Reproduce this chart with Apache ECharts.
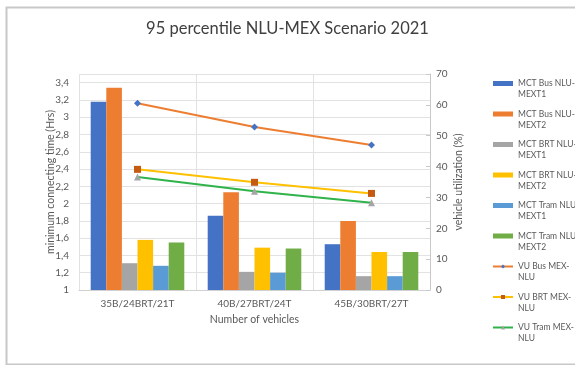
<!DOCTYPE html>
<html>
<head>
<meta charset="utf-8">
<script src="https://cdn.jsdelivr.net/npm/echarts@6/dist/echarts.min.js"></script>
<style>
  html, body { margin: 0; padding: 0; background: #fff; }
  #chart { width: 575px; height: 365px; }
</style>
</head>
<body>
<div id="chart"></div>
<script>
// Scenario categories (fleet size per mode)
const categories = ['35B/24BRT/21T', '40B/27BRT/24T', '45B/30BRT/27T'];

// Minimum connecting time (hours), left axis
const mctBusT1  = [3.18, 1.86, 1.53];
const mctBusT2  = [3.34, 2.13, 1.80];
const mctBrtT1  = [1.31, 1.21, 1.16];
const mctBrtT2  = [1.58, 1.49, 1.44];
const mctTramT1 = [1.28, 1.20, 1.16];
const mctTramT2 = [1.55, 1.48, 1.44];

// Vehicle utilization (%), right axis
const vuBus  = [60.5, 52.8, 47.0];
const vuBrt  = [39.1, 34.9, 31.3];
const vuTram = [36.6, 32.0, 28.3];

const leftTicks = { min: 1, max: 3.5, interval: 0.2 };
const rightTicks = { min: 0, max: 70, interval: 10 };

const textColor = '#595959';
const font = 'Lato, "Open Sans", sans-serif';

function barSeries(name, data, color) {
  return {
    name, type: 'bar', data, yAxisIndex: 0,
    barGap: '0%', barCategoryGap: '20%',
    itemStyle: { color }
  };
}
function lineSeries(name, data, lineColor, symbol, symbolColor, size) {
  return {
    name, type: 'line', data, yAxisIndex: 1,
    symbol, symbolSize: size,
    lineStyle: { color: lineColor, width: 2 },
    itemStyle: { color: symbolColor },
    z: 5
  };
}

const series = [
  barSeries('MCT Bus NLU-MEXT1', mctBusT1, '#4472c4'),
  barSeries('MCT Bus NLU-MEXT2', mctBusT2, '#ed7d31'),
  barSeries('MCT BRT NLU-MEXT1', mctBrtT1, '#a5a5a5'),
  barSeries('MCT BRT NLU-MEXT2', mctBrtT2, '#ffc000'),
  barSeries('MCT Tram NLU-MEXT1', mctTramT1, '#5b9bd5'),
  barSeries('MCT Tram NLU-MEXT2', mctTramT2, '#70ad47'),
  lineSeries('VU Bus MEX-NLU', vuBus, '#ed7d31', 'diamond', '#4472c4', 7),
  lineSeries('VU BRT MEX-NLU', vuBrt, '#ffc000', 'rect', '#c55a11', 7),
  lineSeries('VU Tram MEX-NLU', vuTram, '#2fb34a', 'triangle', '#a5a5a5', 7)
];

const chart = echarts.init(document.getElementById('chart'), null, { renderer: 'canvas' });
chart.setOption({
  animation: false,
  backgroundColor: '#fff',
  textStyle: { fontFamily: font },
  graphic: [{
    type: 'rect', left: 4, top: 5,
    shape: { width: 580, height: 357 },
    style: { fill: 'none', stroke: '#c8c8c8', lineWidth: 2 },
    silent: true
  }],
  title: {
    text: '95 percentile NLU-MEX Scenario 2021',
    left: 'center', top: 15,
    textStyle: { fontFamily: font, fontSize: 16.5, fontWeight: 'normal', color: '#404040' }
  },
  legend: {
    orient: 'vertical', left: 492, top: 67, padding: 0,
    itemWidth: 20, itemHeight: 5, itemGap: -2.5,
    textStyle: { fontFamily: font, fontSize: 8.5, color: textColor, lineHeight: 11 },
    // leading blank line keeps the swatch level with the first text line
    formatter: n => '\n' + n.replace(/-(?=[^-]+$)/, '-\n'),
    data: series.map(s => s.type === 'bar'
      ? { name: s.name, icon: 'rect' }
      : { name: s.name })
  },
  grid: { left: 79, right: 145, top: 74, bottom: 75 },
  xAxis: {
    type: 'category', data: categories,
    name: 'Number of vehicles', nameLocation: 'middle', nameGap: 24,
    nameMoveOverlap: false,
    nameTextStyle: { fontSize: 10.5, color: textColor },
    axisLine: { lineStyle: { color: '#d0d0d0' } },
    axisTick: { show: false },
    axisLabel: { fontSize: 10, color: textColor, margin: 9 },
    splitLine: { show: true, lineStyle: { color: '#e2e2e2' } }
  },
  yAxis: [{
    type: 'value', ...leftTicks,
    name: 'minimum connecting time (Hrs)', nameLocation: 'middle', nameGap: 23,
    nameMoveOverlap: false,
    nameTextStyle: { fontSize: 10.5, color: textColor },
    axisLine: { show: false }, axisTick: { show: false },
    axisLabel: {
      fontSize: 10, color: textColor, margin: 10,
      formatter: v => (v > 3.45 ? '' : (Math.round(v * 10) / 10).toString().replace('.', ','))
    },
    splitLine: { lineStyle: { color: '#e2e2e2' } }
  }, {
    type: 'value', ...rightTicks, position: 'right',
    name: 'vehicle utilization (%)', nameLocation: 'middle', nameGap: 23,
    nameMoveOverlap: false,
    nameTextStyle: { fontSize: 10.5, color: textColor },
    axisLine: { show: true, lineStyle: { color: '#c8c8c8' } },
    axisTick: { show: true, inside: true, length: 4, lineStyle: { color: '#c8c8c8' } },
    axisLabel: { fontSize: 10, color: textColor, margin: 6 },
    splitLine: { show: false }
  }],
  series
});
</script>
</body>
</html>
